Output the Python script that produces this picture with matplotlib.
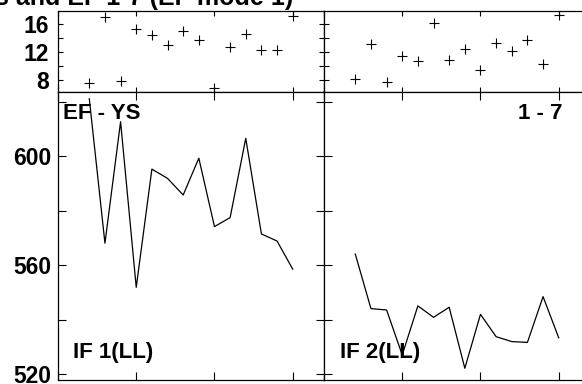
import numpy as np
import matplotlib
matplotlib.use("Agg")
import matplotlib.pyplot as plt
from matplotlib.ticker import MultipleLocator, NullFormatter

## data (x runs 2..15 in every panel)
x_idx = list(range(2, 16))
top_left = [7.61, 16.96, 7.81, 15.24, 14.38, 12.95, 15.05, 13.67, 6.90, 12.76, 14.62, 12.24, 12.24, 17.19]
top_right = [8.10, 13.14, 7.71, 11.48, 10.67, 16.19, 10.86, 12.48, 9.38, 13.29, 12.10, 13.67, 10.29, 17.29]
bottom_left = [621.0, 568.0, 612.6, 551.8, 595.2, 591.8, 585.7, 599.2, 574.1, 577.4, 606.5, 571.4, 568.8, 558.5]
bottom_right = [564.0, 544.0, 543.5, 527.0, 545.0, 540.8, 544.5, 522.1, 541.9, 533.7, 531.9, 531.6, 548.4, 533.3]

title = "Ranks and EF 1-7 (EF mode 1)"
corner_labels = ["EF - YS", "1 - 7", "IF 1(LL)", "IF 2(LL)"]

W, H = 582, 384
plt.rcParams['font.family'] = ['Liberation Sans', 'DejaVu Sans']

fig = plt.figure(figsize=(W / 100, H / 100), dpi=100)

def box(x0, y0, x1, y1):
    # pixel box (top-left origin) -> figure fraction rect
    return [x0 / W, 1 - y1 / H, (x1 - x0) / W, (y1 - y0) / H]

def px(x, y):
    return x / W, 1 - y / H

ax_tl = fig.add_axes(box(58, 11, 324, 92))
ax_tr = fig.add_axes(box(324, 11, 590, 92))
ax_bl = fig.add_axes(box(58, 92, 324, 380))
ax_br = fig.add_axes(box(324, 92, 590, 380))

ax_tl.plot(x_idx, top_left, '+', color='black', markersize=6.5, markeredgewidth=0.8)
ax_tr.plot(x_idx, top_right, '+', color='black', markersize=6.5, markeredgewidth=0.8)
ax_bl.plot(x_idx, bottom_left, '-', color='black', linewidth=0.9)
ax_br.plot(x_idx, bottom_right, '-', color='black', linewidth=0.9)

for ax, ticklen in [(ax_tl, 3.8), (ax_tr, 3.8), (ax_bl, 5.8), (ax_br, 5.8)]:
    ax.set_xlim(0, 17)
    ax.xaxis.set_major_locator(MultipleLocator(5))
    ax.xaxis.set_major_formatter(NullFormatter())
    for s in ax.spines.values():
        s.set_linewidth(0.9)
        s.set_color('black')
    ax.tick_params(which='both', direction='in', top=True, right=True,
                   length=ticklen, width=0.8, color='black',
                   labelsize=16.5, pad=5)

for ax in (ax_tl, ax_tr):
    ax.set_ylim(6.29, 17.86)
    ax.yaxis.set_major_locator(MultipleLocator(4))
    ax.yaxis.set_minor_locator(MultipleLocator(2))

for ax in (ax_bl, ax_br):
    ax.set_ylim(517.8, 623.5)
    ax.yaxis.set_major_locator(MultipleLocator(40))
    ax.yaxis.set_minor_locator(MultipleLocator(20))

for ax in (ax_tr, ax_br):
    ax.yaxis.set_major_formatter(NullFormatter())

ax_tl.tick_params(axis='y', pad=6.5)
for ax in (ax_tl, ax_bl):
    for lab in ax.get_yticklabels():
        lab.set_fontweight('bold')

fs = 16
fig.text(*px(293, 5), title, ha='right', va='baseline', fontsize=18, fontweight='bold')
fig.text(*px(63, 119), corner_labels[0], ha='left', va='baseline', fontsize=fs, fontweight='bold')
fig.text(*px(562, 119), corner_labels[1], ha='right', va='baseline', fontsize=fs, fontweight='bold')
fig.text(*px(73, 358), corner_labels[2], ha='left', va='baseline', fontsize=fs, fontweight='bold')
fig.text(*px(340, 358), corner_labels[3], ha='left', va='baseline', fontsize=fs, fontweight='bold')

fig.savefig("out.png", dpi=100)
